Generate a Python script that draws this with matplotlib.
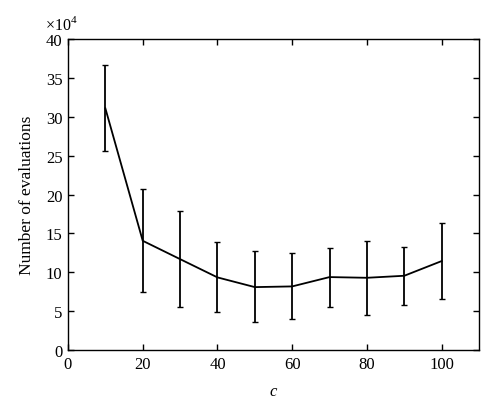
import numpy as np
import matplotlib
matplotlib.use("Agg")
import matplotlib.pyplot as plt

plt.rcParams["font.family"] = ["Liberation Serif", "DejaVu Serif"]
plt.rcParams["mathtext.fontset"] = "custom"
plt.rcParams["mathtext.rm"] = "Liberation Serif"

# values in units of 1e4 evaluations
c_values = [10, 20, 30, 40, 50, 60, 70, 80, 90, 100]
mean_evals = [31.1, 14.06, 11.7, 9.35, 8.1, 8.19, 9.39, 9.3, 9.56, 11.45]
upper_evals = [36.65, 20.75, 17.88, 13.85, 12.7, 12.43, 13.16, 14.06, 13.29, 16.3]
lower_evals = [25.55, 7.42, 5.57, 4.93, 3.56, 4.03, 5.6, 4.54, 5.79, 6.52]

mean = np.array(mean_evals)
yerr = [mean - np.array(lower_evals), np.array(upper_evals) - mean]

fig = plt.figure(figsize=(5.0, 4.14), dpi=100)
ax = fig.add_axes([0.136, 0.152, 0.822, 0.751])

ax.errorbar(c_values, mean, yerr=yerr, color="black", lw=1.3,
            elinewidth=1.3, capsize=2.5, capthick=1.0)

ax.set_xlim(0, 110)
ax.set_ylim(0, 40)
ax.set_xticks(np.arange(0, 101, 20))
ax.set_yticks(np.arange(0, 41, 5))
ax.tick_params(direction="in", top=True, right=True, labelsize=12,
               length=4, width=1.0, pad=4)
for s in ax.spines.values():
    s.set_linewidth(1.0)

ax.set_xlabel("c", style="italic", fontsize=12, labelpad=8)
ax.set_ylabel("Number of evaluations", fontsize=12.5, labelpad=8)
ax.text(-0.055, 1.02, r"$\times10^4$", transform=ax.transAxes,
        fontsize=11.5, ha="left", va="bottom")

fig.savefig("out.png", dpi=100)
